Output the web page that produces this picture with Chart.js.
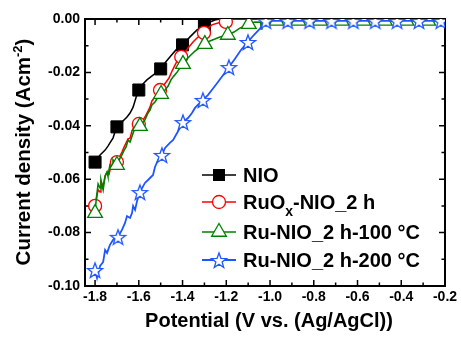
<!DOCTYPE html>
<html><head><meta charset="utf-8">
<script src="https://cdn.jsdelivr.net/npm/chart.js@4/dist/chart.umd.min.js"></script>
<style>html,body{margin:0;padding:0;background:#fff}</style>
</head><body>
<canvas id="c" width="461" height="340"></canvas>
<script>
// ---- axis ticks ----
const xTicks = [-1.8,-1.6,-1.4,-1.2,-1.0,-0.8,-0.6,-0.4,-0.2];
const xMinor = [-1.7,-1.5,-1.3,-1.1,-0.9,-0.7,-0.5,-0.3];
const yTicks = [0,-0.02,-0.04,-0.06,-0.08,-0.10];
const yMinor = [-0.01,-0.03,-0.05,-0.07,-0.09];
const seriesNames = ['NIO','RuOx-NIO_2 h','Ru-NIO_2 h-100 °C','Ru-NIO_2 h-200 °C'];

// ---- NIO ----
const nioV = [-1.800,-1.777,-1.754,-1.741,-1.732,-1.718,-1.709,-1.700,-1.677,-1.654,-1.640,-1.626,-1.612,-1.600,-1.581,-1.563,-1.535,-1.516,-1.500,-1.477,-1.458,-1.426,-1.400,-1.366,-1.334,-1.300,-1.275,-1.252,-1.230,-1.0,-0.6,-0.2];
const nioJ = [-0.0536,-0.0509,-0.0491,-0.0476,-0.0464,-0.0446,-0.0423,-0.0404,-0.0386,-0.0367,-0.0352,-0.0330,-0.0292,-0.0266,-0.0243,-0.0228,-0.0210,-0.0199,-0.0187,-0.0161,-0.0142,-0.0112,-0.0097,-0.0067,-0.0041,-0.0026,-0.0011,-0.0004,0,0,0,0];
const nioMarks = [0,7,13,18,22,25];

// ---- RuOx-NIO_2 h ----
const ruoxV = [-1.800,-1.795,-1.786,-1.777,-1.773,-1.763,-1.754,-1.745,-1.736,-1.727,-1.718,-1.709,-1.700,-1.686,-1.677,-1.667,-1.658,-1.649,-1.640,-1.631,-1.622,-1.612,-1.600,-1.586,-1.572,-1.558,-1.549,-1.540,-1.526,-1.512,-1.503,-1.489,-1.475,-1.462,-1.448,-1.434,-1.420,-1.406,-1.389,-1.371,-1.352,-1.334,-1.316,-1.302,-1.284,-1.266,-1.238,-1.202,-1.175,-1.0,-0.6,-0.2];
const ruoxJ = [-0.0700,-0.0678,-0.0640,-0.0648,-0.0610,-0.0625,-0.0588,-0.0573,-0.0581,-0.0551,-0.0528,-0.0536,-0.0536,-0.0513,-0.0498,-0.0479,-0.0464,-0.0449,-0.0446,-0.0419,-0.0404,-0.0393,-0.0393,-0.0386,-0.0367,-0.0345,-0.0330,-0.0307,-0.0292,-0.0273,-0.0266,-0.0251,-0.0236,-0.0221,-0.0195,-0.0172,-0.0150,-0.0142,-0.0124,-0.0105,-0.0086,-0.0071,-0.0060,-0.0052,-0.0034,-0.0022,-0.0015,-0.0011,0,0,0,0];
const ruoxMarks = [0,12,22,30,37,43,47];

// ---- Ru-NIO_2 h-100 °C ----
const ru100V = [-1.800,-1.795,-1.791,-1.786,-1.777,-1.773,-1.763,-1.754,-1.745,-1.741,-1.732,-1.722,-1.718,-1.709,-1.700,-1.686,-1.677,-1.667,-1.658,-1.649,-1.640,-1.626,-1.617,-1.608,-1.595,-1.586,-1.572,-1.558,-1.549,-1.540,-1.526,-1.512,-1.498,-1.480,-1.466,-1.453,-1.439,-1.425,-1.412,-1.398,-1.380,-1.362,-1.343,-1.325,-1.311,-1.298,-1.275,-1.252,-1.229,-1.193,-1.165,-1.138,-1.097,-1.069,-1.043,-1.040,-1.037,-0.970,-0.871,-0.772,-0.673,-0.574,-0.475,-0.376,-0.277,-0.200];
const ru100J = [-0.0727,-0.0678,-0.0652,-0.0618,-0.0633,-0.0603,-0.0640,-0.0588,-0.0573,-0.0588,-0.0547,-0.0558,-0.0528,-0.0539,-0.0547,-0.0521,-0.0509,-0.0491,-0.0479,-0.0453,-0.0461,-0.0427,-0.0408,-0.0416,-0.0401,-0.0393,-0.0378,-0.0352,-0.0341,-0.0322,-0.0311,-0.0292,-0.0281,-0.0266,-0.0251,-0.0228,-0.0213,-0.0199,-0.0184,-0.0169,-0.0150,-0.0135,-0.0120,-0.0109,-0.0097,-0.0094,-0.0082,-0.0075,-0.0067,-0.0060,-0.0049,-0.0034,-0.0019,-0.0011,-0.0012,-0.0037,-0.0007,-0.0007,-0.0007,-0.0007,-0.0007,-0.0007,-0.0007,-0.0007,-0.0007,-0.0007];
const ru100Marks = [0,14,24,32,39,45,49,52,57,58,59,60,61,62,63,64];

// ---- Ru-NIO_2 h-200 °C ----
const ru200V = [-1.800,-1.791,-1.777,-1.763,-1.754,-1.745,-1.732,-1.718,-1.704,-1.695,-1.677,-1.663,-1.654,-1.640,-1.631,-1.626,-1.617,-1.608,-1.595,-1.572,-1.558,-1.535,-1.526,-1.512,-1.494,-1.480,-1.458,-1.443,-1.425,-1.412,-1.398,-1.375,-1.357,-1.343,-1.330,-1.307,-1.284,-1.266,-1.238,-1.211,-1.188,-1.161,-1.133,-1.101,-1.074,-1.047,-1.019,-0.919,-0.819,-0.719,-0.619,-0.519,-0.419,-0.319,-0.219,-0.200];
const ru200J = [-0.0940,-0.0970,-0.0925,-0.0910,-0.0865,-0.0876,-0.0846,-0.0828,-0.0813,-0.0816,-0.0790,-0.0764,-0.0738,-0.0745,-0.0727,-0.0700,-0.0715,-0.0682,-0.0648,-0.0614,-0.0603,-0.0584,-0.0554,-0.0528,-0.0509,-0.0483,-0.0464,-0.0453,-0.0427,-0.0408,-0.0386,-0.0371,-0.0352,-0.0333,-0.0322,-0.0303,-0.0285,-0.0266,-0.0236,-0.0206,-0.0180,-0.0150,-0.0116,-0.0086,-0.0060,-0.0037,-0.0007,-0.0007,-0.0007,-0.0007,-0.0007,-0.0007,-0.0007,-0.0007,-0.0007,-0.0007];
const ru200Marks = [0,9,18,24,30,35,40,43,46,47,48,49,50,51,52,53,54];

const COLORS = ['#000000','#ff0000','#008000','#1f55ff'];
const FONT = '"Liberation Sans", Arial, sans-serif';

function makeStar(r, ri, color, lw) {
  const c = document.createElement('canvas');
  const s = 20; c.width = s; c.height = s;
  const g = c.getContext('2d');
  const cx = s/2, cy = s/2 + 1;
  g.beginPath();
  for (let i = 0; i < 10; i++) {
    const a = -Math.PI/2 + i*Math.PI/5;
    const rr = (i % 2) ? ri : r;
    g.lineTo(cx + rr*Math.cos(a), cy + rr*Math.sin(a));
  }
  g.closePath();
  g.fillStyle = '#fff'; g.fill();
  g.lineWidth = lw; g.strokeStyle = color; g.lineJoin = 'miter'; g.stroke();
  return c;
}
const starImg = makeStar(8, 3.3, COLORS[3], 1.3);

function pts(V, J) { return V.map((v, i) => ({x: v, y: J[i]})); }
function radiusFn(marks, r) { return ctx => marks.includes(ctx.dataIndex) ? r : 0; }

const datasets = [
  {label: seriesNames[0], data: pts(nioV, nioJ), borderColor: COLORS[0], borderWidth: 1.5,
   pointStyle: 'rect', pointRadius: radiusFn(nioMarks, 8.5), pointBackgroundColor: '#000', pointBorderColor: '#000', pointBorderWidth: 1, order: 4},
  {label: seriesNames[1], data: pts(ruoxV, ruoxJ), borderColor: COLORS[1], borderWidth: 1.5,
   pointStyle: 'circle', pointRadius: radiusFn(ruoxMarks, 6.5), pointBackgroundColor: '#fff', pointBorderColor: COLORS[1], pointBorderWidth: 1.3, order: 3},
  {label: seriesNames[2], data: pts(ru100V, ru100J), borderColor: COLORS[2], borderWidth: 1.6,
   pointStyle: 'triangle', pointRadius: radiusFn(ru100Marks, 8.5), pointBackgroundColor: '#fff', pointBorderColor: COLORS[2], pointBorderWidth: 1.3, order: 2},
  {label: seriesNames[3], data: pts(ru200V, ru200J), borderColor: COLORS[3], borderWidth: 1.8,
   pointStyle: starImg, pointRadius: radiusFn(ru200Marks, 8), pointBackgroundColor: '#fff', pointBorderColor: COLORS[3], pointBorderWidth: 1.3, order: 1}
];

const deco = {
  id: 'deco',
  beforeDatasetsDraw(chart) {
    const {ctx, chartArea: a, scales: {x, y}} = chart;
    ctx.save();
    ctx.strokeStyle = '#000';
    ctx.lineWidth = 1.5;
    ctx.beginPath();
    const tk = (list, len) => {
      list.forEach(v => {
        const px = x.getPixelForValue(v);
        ctx.moveTo(px, a.bottom); ctx.lineTo(px, a.bottom - len);
        ctx.moveTo(px, a.top); ctx.lineTo(px, a.top + len);
      });
    };
    const tky = (list, len) => {
      list.forEach(v => {
        const py = y.getPixelForValue(v);
        ctx.moveTo(a.left, py); ctx.lineTo(a.left + len, py);
        ctx.moveTo(a.right, py); ctx.lineTo(a.right - len, py);
      });
    };
    tk(xTicks, 6); tk(xMinor, 3.5); tky(yTicks, 6); tky(yMinor, 3.5);
    ctx.stroke();
    ctx.lineWidth = 2;
    ctx.strokeRect(a.left, a.top, a.right - a.left, a.bottom - a.top);
    ctx.restore();
  },
  afterDraw(chart) {
    const {ctx} = chart;
    ctx.save();
    ctx.fillStyle = '#000';
    // x title
    ctx.font = 'bold 20px ' + FONT;
    ctx.textAlign = 'center'; ctx.textBaseline = 'alphabetic';
    ctx.fillText('Potential (V vs. (Ag/AgCl))', 269, 327);
    // y title with superscript
    const big = 'bold 20.5px ' + FONT, small = 'bold 13px ' + FONT;
    const t1 = 'Current density (Acm', sup = '-2', t3 = ')';
    ctx.font = big; const w1 = ctx.measureText(t1).width, w3 = ctx.measureText(t3).width;
    ctx.font = small; const w2 = ctx.measureText(sup).width;
    const tot = w1 + w2 + w3;
    ctx.translate(30, 152); ctx.rotate(-Math.PI/2);
    ctx.textAlign = 'left';
    let sx = -tot/2;
    ctx.font = big; ctx.fillText(t1, sx, 0); sx += w1;
    ctx.font = small; ctx.fillText(sup, sx, -8); sx += w2;
    ctx.font = big; ctx.fillText(t3, sx, 0);
    ctx.setTransform(1,0,0,1,0,0);
    // legend
    const rows = [175, 202, 232, 260];
    const lx0 = 202, lx1 = 236, mx = 219, tx = 243;
    rows.forEach((ry, i) => {
      ctx.strokeStyle = COLORS[i]; ctx.lineWidth = i === 3 ? 1.8 : 1.6;
      ctx.beginPath(); ctx.moveTo(lx0, ry); ctx.lineTo(lx1, ry); ctx.stroke();
      ctx.lineWidth = 1.3;
      ctx.beginPath();
      if (i === 0) { ctx.fillStyle = '#000'; ctx.fillRect(mx - 6, ry - 6, 12, 12); }
      else if (i === 1) { ctx.arc(mx, ry, 6.5, 0, Math.PI*2); ctx.fillStyle = '#fff'; ctx.fill(); ctx.stroke(); }
      else if (i === 2) {
        const r = 8.5;
        ctx.moveTo(mx, ry - r); ctx.lineTo(mx + 0.866*r, ry + 0.5*r); ctx.lineTo(mx - 0.866*r, ry + 0.5*r); ctx.closePath();
        ctx.fillStyle = '#fff'; ctx.fill(); ctx.stroke();
      } else { ctx.drawImage(starImg, mx - 10, ry - 10); }
      ctx.fillStyle = '#000';
      ctx.textAlign = 'left'; ctx.textBaseline = 'alphabetic';
      const base = ry + 7;
      const f = 'bold 20px ' + FONT;
      if (i === 1) {
        ctx.font = f; ctx.fillText('RuO', tx, base);
        let w = ctx.measureText('RuO').width;
        ctx.font = 'bold 14px ' + FONT; ctx.fillText('x', tx + w, base + 7);
        w += ctx.measureText('x').width;
        ctx.font = f; ctx.fillText('-NIO_2 h', tx + w, base);
      } else {
        ctx.font = f; ctx.fillText(seriesNames[i], tx, base);
      }
    });
    ctx.restore();
  }
};

new Chart(document.getElementById('c'), {
  type: 'line',
  data: {datasets},
  options: {
    responsive: false, animation: false, devicePixelRatio: 1,
    layout: {padding: {left: 0, top: 19, right: 16, bottom: 0}},
    plugins: {legend: {display: false}, tooltip: {enabled: false}},
    elements: {line: {tension: 0, fill: false}},
    scales: {
      x: {type: 'linear', min: -1.846, max: -0.2,
          afterBuildTicks: s => { s.ticks = xTicks.map(v => ({value: v})); },
          afterFit: s => { s.height = 54; },
          grid: {display: false, drawTicks: false}, border: {display: false},
          ticks: {color: '#000', padding: 3, maxRotation: 0, autoSkip: false,
                  font: {family: FONT, weight: 'bold', size: 14}, callback: v => v.toFixed(1)}},
      y: {type: 'linear', min: -0.1, max: 0,
          afterBuildTicks: s => { s.ticks = yTicks.map(v => ({value: v})); },
          afterFit: s => { s.width = 85; },
          grid: {display: false, drawTicks: false}, border: {display: false},
          ticks: {color: '#000', padding: 5, autoSkip: false,
                  font: {family: FONT, weight: 'bold', size: 14}, callback: v => v.toFixed(2)}}
    }
  },
  plugins: [deco]
});
</script>
</body></html>
